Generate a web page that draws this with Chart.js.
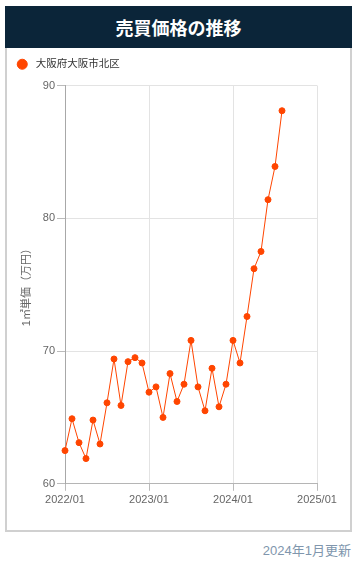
<!DOCTYPE html>
<html><head><meta charset="utf-8">
<script src="https://cdn.jsdelivr.net/npm/chart.js@4"></script>
<style>
html,body{margin:0;padding:0;background:#fff;}
body{width:357px;height:570px;position:relative;overflow:hidden;font-family:Arial,"Liberation Sans","Noto Sans CJK JP",sans-serif;}
#hdr{position:absolute;left:5px;top:6px;width:347px;height:42px;background:#0b2539;color:#fff;font:bold 18px "Noto Sans CJK JP",sans-serif;text-align:center;line-height:42px;}
#card{position:absolute;left:5px;top:48px;width:343px;height:482px;border:2px solid #d0d0d0;border-top:none;}
#wrap{position:absolute;left:3px;top:49px;width:347px;height:480px;}
#foot{position:absolute;right:6px;top:540px;font:13px Arial,"Noto Sans CJK JP",sans-serif;color:#8096ad;}
</style></head>
<body>
<div id="hdr">売買価格の推移</div>
<div id="card"></div>
<div id="wrap"><canvas id="c"></canvas></div>
<div id="foot">2024年1月更新</div>
<script>
const seriesName = '大阪府大阪市北区';
const axisLabels = ['2022/01','2022/02','2022/03','2022/04','2022/05','2022/06','2022/07','2022/08','2022/09','2022/10','2022/11','2022/12',
 '2023/01','2023/02','2023/03','2023/04','2023/05','2023/06','2023/07','2023/08','2023/09','2023/10','2023/11','2023/12',
 '2024/01','2024/02','2024/03','2024/04','2024/05','2024/06','2024/07','2024/08','2024/09','2024/10','2024/11','2024/12','2025/01'];
const priceValues = [62.5,64.9,63.1,61.9,64.8,63.0,66.1,69.4,65.9,69.2,69.5,69.1,
 66.9,67.3,65.0,68.3,66.2,67.5,70.8,67.3,65.5,68.7,65.8,67.5,
 70.8,69.1,72.6,76.2,77.5,81.4,83.9,88.1];
const yTitle = '1㎡単価（万円）';
const yMin = 60, yMax = 90, yStep = 10;

const color = '#ff4500';
const fam = 'Arial, "Liberation Sans", "Noto Sans CJK JP", sans-serif';
const legendGap = {
  id: 'legendGap',
  beforeLayout(chart) {
    const lg = chart.legend;
    if (lg && !lg._gapPatched) {
      const f = lg.fit;
      lg.fit = function() { f.call(this); this.height += 6; };
      lg._gapPatched = true;
    }
  },
  afterLayout(chart) {
    const lg = chart.legend;
    if (lg) { lg.left += 4; lg.right += 4; }
  }
};
new Chart(document.getElementById('c'), {
  type: 'line',
  data: { labels: axisLabels, datasets: [{
    label: seriesName, data: priceValues,
    borderColor: color, backgroundColor: color,
    borderWidth: 1, pointRadius: 3, pointBorderWidth: 1,
    pointBackgroundColor: color, pointBorderColor: color, tension: 0
  }]},
  plugins: [legendGap],
  options: {
    responsive: true, maintainAspectRatio: false, animation: false,
    layout: { padding: { left: 0, right: 33, top: 0, bottom: 19 } },
    plugins: {
      legend: { position: 'top', align: 'start',
        labels: { usePointStyle: true, boxHeight: 7.1, boxWidth: 11, padding: 10,
          color: '#333', font: { size: 10.5, family: fam },
          generateLabels(chart) {
            return Chart.defaults.plugins.legend.labels.generateLabels(chart).map(it => Object.assign(it, { text: ' ' + it.text }));
          } } },
      tooltip: { enabled: false }
    },
    scales: {
      x: { type: 'category', offset: false,
        grid: { color: '#e3e3e3', tickLength: 7, tickColor: '#bbb' },
        border: { color: '#b5b5b5' },
        ticks: { autoSkip: false, maxRotation: 0, minRotation: 0, padding: 3, color: '#666',
          font: { size: 11, family: fam },
          callback: function(v){ const l = this.getLabelForValue(v); return l.endsWith('/01') ? l : null; } }
      },
      y: { min: yMin, max: yMax,
        afterFit(scale) { scale.width = 62; },
        grid: { color: '#e3e3e3', tickLength: 8, tickColor: '#bbb' },
        border: { color: '#a8a8a8' },
        ticks: { stepSize: yStep, padding: 2, color: '#666', font: { size: 11, family: fam } },
        title: { display: true, text: yTitle, color: '#666', font: { size: 11, family: fam }, padding: { top: 17, bottom: 4 } }
      }
    }
  }
});
</script>
</body></html>
